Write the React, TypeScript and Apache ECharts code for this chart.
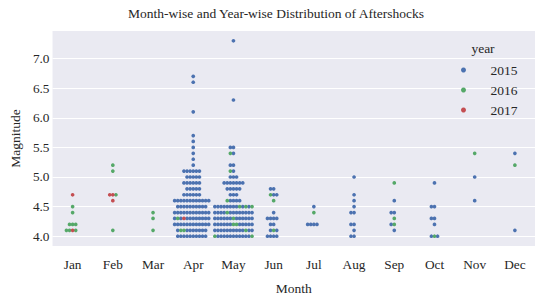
import React, { useEffect, useRef } from "react";
import * as echarts from "echarts";

const months = ["Jan", "Feb", "Mar", "Apr", "May", "Jun", "Jul", "Aug", "Sep", "Oct", "Nov", "Dec"];
const years = ["2015", "2016", "2017"];
const yearColors = ["#4C72B0", "#55A868", "#C44E52"];

// Each row: [magnitude, years of the aftershocks at that magnitude, left to right, as last digit of the year]
const jan: [number, string][] = [[4.7, "7"], [4.5, "6"], [4.4, "6"], [4.2, "666"], [4.1, "6676"]];
const feb: [number, string][] = [[5.2, "6"], [5.1, "6"], [4.7, "776"], [4.6, "7"], [4.1, "6"]];
const mar: [number, string][] = [[4.4, "6"], [4.3, "6"], [4.1, "6"]];
const apr: [number, string][] = [
  [6.7, "5"], [6.6, "5"], [6.1, "5"], [5.7, "5"], [5.6, "5"], [5.5, "5"], [5.4, "5"], [5.3, "5"], [5.2, "5"],
  [5.1, "555555"], [5.0, "55555"], [4.9, "555555"], [4.8, "55555"], [4.7, "555555"],
  [4.6, "555555555555"], [4.5, "5555555555"], [4.4, "555555555555"], [4.3, "565755555555"],
  [4.2, "555555555555"], [4.1, "5665555555"], [4.0, "5555555555"],
];
const may: [number, string][] = [
  [7.3, "5"], [6.3, "5"], [5.5, "55"], [5.4, "65"], [5.2, "55"], [5.1, "65"], [5.0, "555"],
  [4.9, "5555555"], [4.8, "55555"], [4.7, "555"], [4.6, "65555"],
  [4.5, "5555555565656"], [4.4, "5555655555555"], [4.3, "5555556555555"], [4.2, "5555556655555"],
  [4.1, "5555555555655"], [4.0, "6555555555556"],
];
const jun: [number, string][] = [[4.8, "55"], [4.7, "655"], [4.6, "6"], [4.4, "5"], [4.3, "5555"], [4.2, "55"], [4.1, "565"], [4.0, "5555"]];
const jul: [number, string][] = [[4.5, "5"], [4.4, "6"], [4.2, "5555"]];
const aug: [number, string][] = [[5.0, "5"], [4.7, "5"], [4.6, "5"], [4.5, "5"], [4.4, "55"], [4.2, "55"], [4.1, "5"], [4.0, "55"]];
const sep: [number, string][] = [[4.9, "6"], [4.6, "5"], [4.4, "55"], [4.3, "6"], [4.2, "56"], [4.1, "5"]];
const oct: [number, string][] = [[4.9, "5"], [4.5, "55"], [4.3, "55"], [4.2, "5"], [4.0, "565"]];
const nov: [number, string][] = [[5.4, "6"], [5.0, "5"], [4.6, "5"]];
const dec: [number, string][] = [[5.4, "5"], [5.2, "6"], [4.1, "5"]];
const monthRows = [jan, feb, mar, apr, may, jun, jul, aug, sep, oct, nov, dec];

const FONT = "Liberation Serif, Times New Roman, serif";
const TEXT = "#262626";
const DOT = 3.7;
const STEP = 3.1;

function buildSeriesData() {
  const out: any[][] = years.map(() => []);
  monthRows.forEach((rows, mi) => {
    rows.forEach(([mag, codes]) => {
      const n = codes.length;
      const start = -Math.floor(n / 2);
      codes.split("").forEach((c, k) => {
        const yi = years.findIndex((y) => y.endsWith(c));
        out[yi].push({ value: [mi, mag], symbolOffset: [(start + k) * STEP, 0] });
      });
    });
  });
  return out;
}

export default function App() {
  const ref = useRef<HTMLDivElement>(null);
  useEffect(() => {
    if (!ref.current) return;
    const chart = echarts.init(ref.current, undefined, { renderer: "svg" });
    const data = buildSeriesData();
    chart.setOption({
      animation: false,
      backgroundColor: "#ffffff",
      textStyle: { fontFamily: FONT },
      grid: {
        left: 35.5, top: 31, width: 499.5, height: 219,
        show: true, backgroundColor: "#EAEAF2", borderWidth: 0,
      },
      graphic: [
        {
          type: "text", x: 276, y: 13,
          style: { text: "Month-wise and Year-wise Distribution of Aftershocks", fontFamily: FONT, fontSize: 13.5, fill: TEXT, textAlign: "center", textVerticalAlign: "middle" },
        },
        {
          type: "text", x: 483, y: 48,
          style: { text: "year", fontFamily: FONT, fontSize: 13.5, fill: TEXT, textAlign: "center", textVerticalAlign: "middle" },
        },
      ],
      legend: {
        data: years,
        orient: "vertical",
        left: 456,
        top: 58,
        itemWidth: 44,
        itemHeight: 5,
        itemGap: 6,
        icon: "circle",
        textStyle: { fontFamily: FONT, fontSize: 13.5, color: TEXT },
      },
      xAxis: {
        type: "category",
        data: months,
        boundaryGap: true,
        axisLine: { show: false },
        axisTick: { show: false },
        splitLine: { show: false },
        axisLabel: { fontFamily: FONT, fontSize: 13.3, color: TEXT, margin: 12 },
        name: "Month",
        nameLocation: "middle",
        nameGap: 35,
        nameTextStyle: { fontFamily: FONT, fontSize: 13.5, color: TEXT },
      },
      yAxis: {
        type: "value",
        min: 3.835,
        max: 7.465,
        splitNumber: 7,
        axisLine: { show: false },
        axisTick: { show: false },
        axisLabel: {
          fontFamily: FONT, fontSize: 13.3, color: TEXT, margin: 3,
          showMinLabel: false, showMaxLabel: false,
          formatter: (v: number) => v.toFixed(1),
        },
        splitLine: { show: true, showMinLine: false, showMaxLine: false, lineStyle: { color: "#ffffff", width: 1.2 } },
        name: "Magnitude",
        nameLocation: "middle",
        nameGap: 27,
        nameTextStyle: { fontFamily: FONT, fontSize: 13.5, color: TEXT },
      },
      series: years.map((y, i) => ({
        name: y,
        type: "scatter",
        symbol: "circle",
        symbolSize: DOT,
        itemStyle: { color: yearColors[i], opacity: 1 },
        data: data[i],
      })),
    });
    return () => chart.dispose();
  }, []);
  return <div ref={ref} style={{ position: "fixed", left: 0, top: 0, width: 538, height: 300 }} />;
}
